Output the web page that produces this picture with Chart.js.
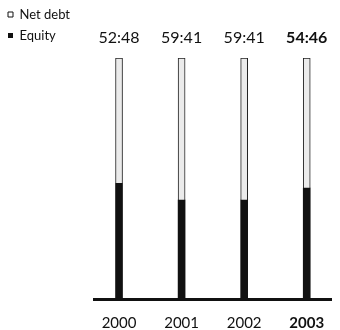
<!DOCTYPE html>
<html>
<head>
<meta charset="utf-8">
<script src="https://cdn.jsdelivr.net/npm/chart.js@4"></script>
<style>
  body { margin: 0; background: #fff; }
</style>
</head>
<body>
<canvas id="myChart" width="340" height="330"></canvas>
<script>
// capital structure: net debt vs equity, in percent
var years = ['2000', '2001', '2002', '2003']
var ratioLabels = ['52:48', '59:41', '59:41', '54:46']
var netDebt = [52, 59, 59, 54]
var equity = [48, 41, 41, 46]

var lastIndex = years.length - 1

function toPoints(values) {
    var points = []
    for (var i = 0; i < values.length; i++) {
        points.push({ x: i, y: values[i] })
    }
    return points
}

function keepWholeTicks(scale) {
    scale.ticks = scale.ticks.filter(function(t) {
        return Number.isInteger(t.value) && t.value >= 0 && t.value <= lastIndex
    })
}

Chart.defaults.font.family = 'Lato, "Open Sans", sans-serif'
Chart.defaults.color = '#111'

var ctx = document.getElementById('myChart')
var myChart = new Chart(ctx, {
    type: 'bar',
    data: {
        datasets: [
            {
                label: 'Equity',
                data: toPoints(equity),
                backgroundColor: '#111',
                borderWidth: 0,
                barThickness: 7
            },
            {
                label: 'Net debt',
                data: toPoints(netDebt),
                backgroundColor: '#ebebeb',
                borderColor: '#222',
                borderWidth: { left: 1, right: 1, top: 1, bottom: 0 },
                borderSkipped: false,
                barThickness: 7
            }
        ]
    },
    options: {
        responsive: false,
        animation: false,
        layout: { padding: 0 },
        plugins: {
            tooltip: { enabled: false },
            legend: {
                position: 'left',
                align: 'start',
                reverse: true,
                labels: {
                    boxWidth: 5,
                    boxHeight: 5,
                    padding: 8,
                    font: { size: 13 },
                    generateLabels: function(chart) {
                        var items = Chart.defaults.plugins.legend.labels.generateLabels(chart)
                        items.forEach(function(item) {
                            if (item.text === 'Net debt') {
                                item.fillStyle = '#fff'
                                item.strokeStyle = '#111'
                                item.lineWidth = 1
                            } else {
                                item.lineWidth = 0
                            }
                        })
                        return items
                    }
                }
            }
        },
        scales: {
            x: {
                type: 'linear',
                position: 'bottom',
                offset: false,
                min: -0.4,
                max: 3.4,
                stacked: true,
                grid: { display: false, drawTicks: false, offset: false },
                border: { display: true, color: '#111', width: 3 },
                ticks: {
                    stepSize: 1,
                    includeBounds: false,
                    padding: 15,
                    font: function(c) {
                        return { size: 15, weight: c.tick && c.tick.value === lastIndex ? 'bold' : 'normal' }
                    },
                    callback: function(value) { return years[value] }
                },
                afterBuildTicks: keepWholeTicks,
                afterFit: function(s) { s.height = 31 }
            },
            xTop: {
                type: 'linear',
                position: 'top',
                offset: false,
                min: -0.4,
                max: 3.4,
                grid: { display: false, drawTicks: false, offset: false },
                border: { display: false },
                ticks: {
                    stepSize: 1,
                    includeBounds: false,
                    padding: 11,
                    font: function(c) {
                        return { size: 16, weight: c.tick && c.tick.value === lastIndex ? 'bold' : 'normal' }
                    },
                    callback: function(value) { return ratioLabels[value] }
                },
                afterBuildTicks: keepWholeTicks,
                afterFit: function(s) { s.height = 58 }
            },
            y: {
                min: 0,
                max: 100,
                stacked: true,
                grid: { display: false },
                border: { display: false },
                ticks: { display: false },
                afterFit: function(s) {
                    var legendWidth = s.chart.legend ? s.chart.legend.width : 0
                    s.width = Math.max(0, 94 - legendWidth)
                }
            }
        }
    }
})
</script>
</body>
</html>
